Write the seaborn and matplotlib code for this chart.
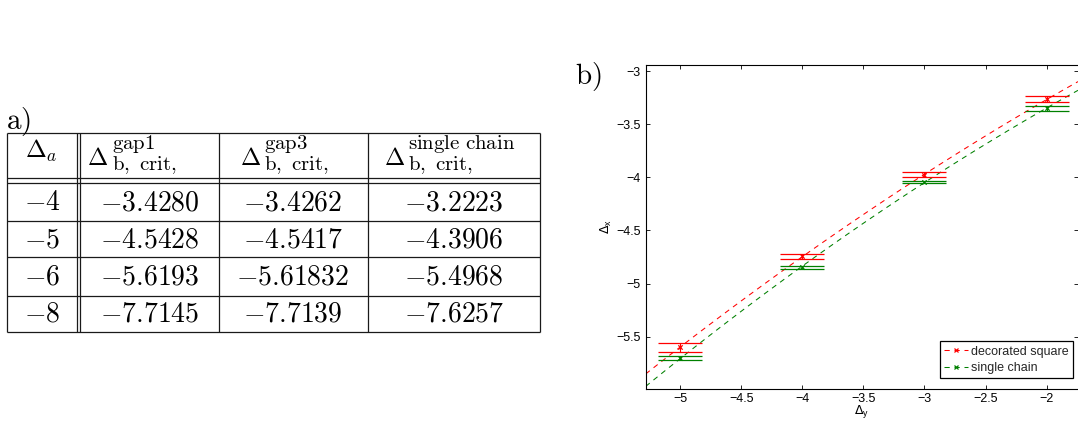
import numpy as np
import pandas as pd
import matplotlib
matplotlib.use("Agg")
import matplotlib.pyplot as plt
import seaborn as sns
from matplotlib.lines import Line2D
from matplotlib.ticker import FuncFormatter

# ---------------- panel a) table data ----------------
delta_a = ["-4", "-5", "-6", "-8"]
gap1 = ["-3.4280", "-4.5428", "-5.6193", "-7.7145"]
gap3 = ["-3.4262", "-4.5417", "-5.61832", "-7.7139"]
single_chain = ["-3.2223", "-4.3906", "-5.4968", "-7.6257"]
header_sup = ["gap1", "gap3", "single chain"]
header_sub = "b, crit,"

# ---------------- panel b) plot data ----------------
delta_y = [-5, -4, -3, -2]
square_y = [-5.599, -4.740, -3.978, -3.266]
square_hi = [-5.559, -4.724, -3.950, -3.235]
square_lo = [-5.643, -4.771, -4.000, -3.294]
chain_y = [-5.703, -4.844, -4.041, -3.351]
chain_hi = [-5.681, -4.832, -4.032, -3.329]
chain_lo = [-5.722, -4.860, -4.056, -3.379]
series_names = ["decorated square", "single chain"]
series_colors = ["#ff0000", "#008000"]

sns.set_theme(style="white")
plt.rcParams['font.family'] = ['Liberation Sans', 'DejaVu Sans']
plt.rcParams['axes.unicode_minus'] = True

W, H = 1078, 425
fig = plt.figure(figsize=(W / 100, H / 100), dpi=100)
fig.patch.set_facecolor("white")

# ---------------- table (pixel coordinates) ----------------
tab = fig.add_axes([0, 0, 1, 1], zorder=0)
tab.set_xlim(0, W)
tab.set_ylim(H, 0)
tab.axis("off")
tab.patch.set_alpha(0)

line_kw = dict(color="#1a1a1a", lw=0.9, solid_capstyle="butt")
x_left, x_dbl1, x_dbl2, x_c3, x_c4, x_right = 7.3, 77.3, 80.0, 219.0, 367.5, 540.0
y_top, y_h1, y_h2, y_bot = 132.5, 178.0, 182.8, 331.7
row_lines = [220.5, 257.0, 295.7]
for yy in [y_top, y_h1, y_h2] + row_lines + [y_bot]:
    tab.plot([x_left, x_right], [yy, yy], **line_kw)
for xx in [x_left, x_dbl1, x_dbl2, x_c3, x_c4, x_right]:
    tab.plot([xx, xx], [y_top, y_bot], **line_kw)

cm = dict(math_fontfamily="cm", color="black")
col_centers = [42.3, 149.5, 293.0, 454.0]
row_base = [210.0, 247.0, 284.5, 321.0]
columns = [delta_a, gap1, gap3, single_chain]
for ci, col in enumerate(columns):
    for ri, val in enumerate(col):
        tab.text(col_centers[ci], row_base[ri], "$" + val + "$", fontsize=20,
                 ha="center", va="baseline", **cm)

# header
tab.text(41.5, 158.0, r"$\Delta_a$", fontsize=18, ha="center", va="baseline", **cm)
delta_left = [87.0, 239.5, 384.0]
sup_left = [111.5, 263.5, 408.0]
for i in range(3):
    tab.text(delta_left[i], 165.0, r"$\Delta$", fontsize=17.5, ha="left", va="baseline", **cm)
    tab.text(sup_left[i], 149.0, r"$\mathrm{" + header_sup[i].replace(" ", r"\ ") + "}$",
             fontsize=15, ha="left", va="baseline", **cm)
    tab.text(sup_left[i], 170.5, r"$\mathrm{" + header_sub.replace(" ", r"\ ") + "}$",
             fontsize=15, ha="left", va="baseline", **cm)

tab.text(6.0, 129.0, r"$\mathrm{a)}$", fontsize=21, ha="left", va="baseline", **cm)
tab.text(575.0, 84.0, r"$\mathrm{b)}$", fontsize=21, ha="left", va="baseline", **cm)

# ---------------- plot ----------------
ax_l, ax_r, ax_t, ax_b = 645.7, 1078.0, 64.7, 389.3
ax = fig.add_axes([ax_l / W, (H - ax_b) / H, (ax_r - ax_l) / W, (ax_b - ax_t) / H], zorder=1)
ax.set_facecolor("white")
xlim = (-5.283, -5.283 + (ax_r - ax_l) / 122.1)
ylim = (-5.995, -2.94)
ax.set_xlim(*xlim)
ax.set_ylim(*ylim)

dash = (0, (5, 4.6))
ys = [square_y, chain_y]
his = [square_hi, chain_hi]
los = [square_lo, chain_lo]
for k in range(2):
    df = pd.DataFrame({"x": delta_y, "y": ys[k]})
    sns.regplot(data=df, x="x", y="y", order=2, ci=None, scatter=False, truncate=False,
                ax=ax, line_kws=dict(color=series_colors[k], lw=0.75, ls=dash))
    yv = np.array(ys[k])
    yerr = [yv - np.array(los[k]), np.array(his[k]) - yv]
    ax.errorbar(delta_y, yv, yerr=yerr, fmt="none", ecolor=series_colors[k],
                elinewidth=0.8, capsize=15.8, capthick=0.9, zorder=3)
    sns.scatterplot(data=df, x="x", y="y", marker="x", color=series_colors[k], s=10,
                    linewidth=0.9, ax=ax, zorder=4)

ax.set_xlim(*xlim)
ax.set_ylim(*ylim)
ax.set_xticks([-5, -4.5, -4, -3.5, -3, -2.5, -2])
ax.set_yticks([-5.5, -5, -4.5, -4, -3.5, -3])
fmt = FuncFormatter(lambda v, p: ("%g" % v).replace("-", "\u2212"))
ax.xaxis.set_major_formatter(fmt)
ax.yaxis.set_major_formatter(fmt)
ax.tick_params(axis="both", direction="in", length=3, width=0.6, labelsize=9,
               colors="black", top=True, right=True, bottom=True, left=True)
ax.tick_params(axis="y", pad=3.4)
ax.tick_params(axis="x", pad=2.5)
for s in ["left", "bottom", "top"]:
    ax.spines[s].set_color("black")
    ax.spines[s].set_linewidth(0.8)
ax.spines["right"].set_visible(False)

ax.set_xlabel(r"$\Delta_{\mathregular{y}}$", fontsize=9, labelpad=-1, color="black",
              math_fontfamily="dejavusans")
ax.set_ylabel(r"$\Delta_{\mathregular{x}}$", fontsize=9, labelpad=1.5, color="black",
              math_fontfamily="dejavusans")

handles = [Line2D([], [], color=c, ls=dash, lw=0.75, marker="x", markersize=3.2, mew=0.9)
           for c in series_colors]
leg = ax.legend(handles, series_names, loc="lower right",
                bbox_to_anchor=((1072.7 - ax_l) / (ax_r - ax_l), (ax_b - 378.3) / (ax_b - ax_t)),
                borderaxespad=0, fontsize=9, frameon=True, fancybox=False, framealpha=1,
                edgecolor="black", handlelength=1.9, handletextpad=0.2, labelspacing=0.35,
                borderpad=0.35, numpoints=1)
leg.get_frame().set_linewidth(0.9)

fig.savefig("out.png", dpi=100, facecolor="white")
